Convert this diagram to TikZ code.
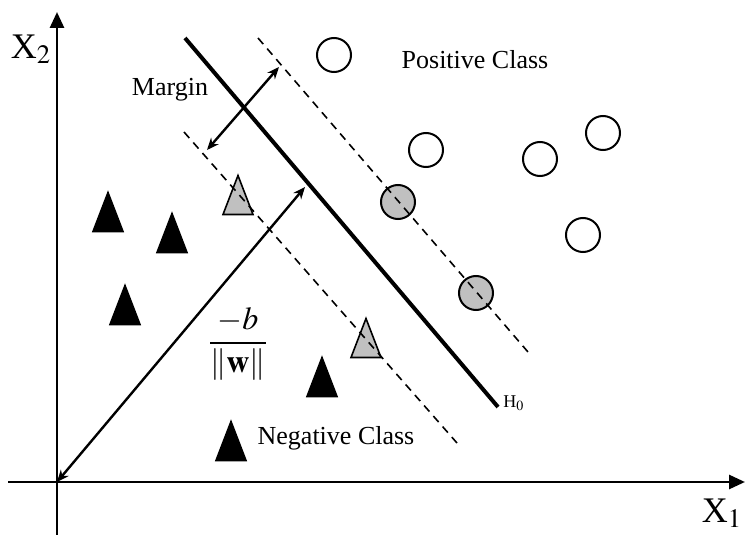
\documentclass[tikz,border=0pt]{standalone}
\usepackage{amsmath}
\usepackage{mathptmx}
\usepackage{fontspec}
\setmainfont{Liberation Serif}
\usetikzlibrary{arrows.meta, positioning}
\definecolor{svgray}{RGB}{192,192,192}
\tikzset{
  axis/.style={line width=1.4pt, -{Triangle[length=8pt,width=7pt]}},
  hyper/.style={line width=2pt},
  marginline/.style={line width=0.8pt, dash pattern=on 4pt off 3pt},
  dist/.style={line width=1.2pt, {Stealth[length=6pt,width=5pt]}-{Stealth[length=6pt,width=5pt]}},
  pospt/.style={circle, draw, line width=1pt, minimum size=17pt, inner sep=0pt},
  svpt/.style={pospt, fill=svgray},
  negpt/.style={draw, line width=0.8pt, fill=black},
  svneg/.style={draw, line width=0.8pt, fill=svgray},
  lbl/.style={font=\fontsize{13}{15}\selectfont},
  axlbl/.style={font=\fontsize{18}{21}\selectfont}
}

\begin{document}
\begin{tikzpicture}[x=0.5pt, y=-0.5pt]
  \useasboundingbox (0,0) rectangle (746,535);
  % positive class
  \node[pospt] (p1) at (334,55) {};
  \node[pospt] (p2) at (426,150) {};
  \node[pospt] (p3) at (540,159) {};
  \node[pospt] (p4) at (603,133) {};
  \node[pospt] (p5) at (583,235) {};
  \node[svpt] (s1) at (398,202) {};
  \node[svpt] (s2) at (476,293) {};
  % negative class
  \foreach \x/\y in {108/212, 172/233, 125/305, 322/377, 231/441}
    \draw[negpt] (\x-15,\y+19.5) -- (\x,\y-19.5) -- (\x+15,\y+19.5) -- cycle;
  \foreach \x/\y in {238/195, 366/338}
    \draw[svneg] (\x-15,\y+19.5) -- (\x,\y-19.5) -- (\x+15,\y+19.5) -- cycle;
  % hyperplanes
  \coordinate (h0a) at (185,38);
  \coordinate (h0b) at (498,407);
  \coordinate (upa) at (258,38);
  \coordinate (upb) at (528,352);
  \coordinate (loa) at (184,132);
  \coordinate (lob) at (457,443);
  \draw[hyper] (h0a) -- (h0b);
  \draw[marginline] (upa) -- (upb);
  \draw[marginline] (loa) -- (lob);
  \node[anchor=west, font=\fontsize{9}{10}\selectfont, inner sep=1pt] (h0) at (501,403) {H$_0$};
  % margin and distance
  \coordinate (ma) at (207,150);
  \coordinate (mb) at (279,67);
  \draw[dist] (ma) -- (mb);
  \node[lbl] (mlbl) at (170,90) {Margin};
  \coordinate (o) at (57,482);
  \coordinate (wtip) at (305,187);
  \draw[dist] (o) -- (wtip);
  \node[font=\fontsize{16}{19}\selectfont] (frac) at (238,344) {$\dfrac{-b}{\left\|\mathbf{w}\right\|}$};
  % class labels
  \node[lbl] (plbl) at (475,60) {Positive Class};
  \node[lbl] (nlbl) at (336,438) {Negative Class};
  % axes
  \coordinate (xs) at (8,482);
  \coordinate (xe) at (745,482);
  \coordinate (ys) at (57,535);
  \coordinate (ye) at (57,12);
  \draw[axis] (xs) -- (xe);
  \draw[axis] (ys) -- (ye);
  \node[axlbl] (x1) at (722,513) {X$_1$};
  \node[axlbl] (x2) at (31,49) {X$_2$};
\end{tikzpicture}
\end{document}
